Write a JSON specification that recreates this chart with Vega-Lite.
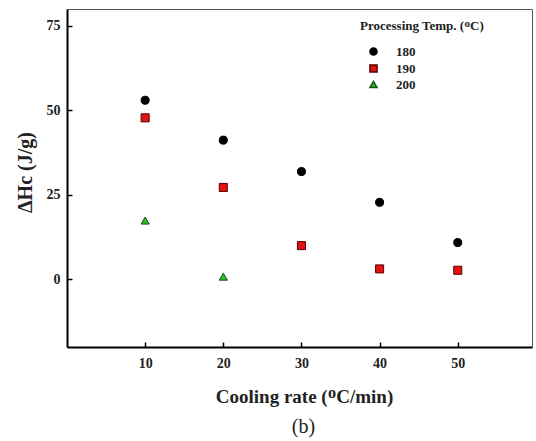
{
  "$schema": "https://vega.github.io/schema/vega-lite/v6.json",
  "width": 465,
  "height": 338,
  "autosize": {"type": "none"},
  "padding": {"left": 67, "top": 9, "right": 4, "bottom": 94},
  "background": "white",
  "title": {
    "text": "(b)",
    "orient": "bottom",
    "anchor": "middle",
    "font": "Liberation Serif",
    "fontSize": 20,
    "fontWeight": "normal",
    "color": "#222",
    "offset": 11,
    "dx": 4
  },
  "config": {
    "view": {"stroke": "#555", "strokeWidth": 1},
    "font": "Liberation Serif"
  },
  "data": {
    "values": [
      {"rate": 10, "temp": "180", "dhc": 53.0},
      {"rate": 20, "temp": "180", "dhc": 41.2},
      {"rate": 30, "temp": "180", "dhc": 31.9},
      {"rate": 40, "temp": "180", "dhc": 22.8},
      {"rate": 50, "temp": "180", "dhc": 10.9},
      {"rate": 10, "temp": "190", "dhc": 47.8},
      {"rate": 20, "temp": "190", "dhc": 27.2},
      {"rate": 30, "temp": "190", "dhc": 10.0},
      {"rate": 40, "temp": "190", "dhc": 3.1},
      {"rate": 50, "temp": "190", "dhc": 2.7},
      {"rate": 10, "temp": "200", "dhc": 17.4},
      {"rate": 20, "temp": "200", "dhc": 0.8}
    ]
  },
  "mark": {"type": "point", "filled": true, "opacity": 1, "size": 65, "strokeWidth": 1},
  "encoding": {
    "x": {
      "field": "rate",
      "type": "quantitative",
      "scale": {"domain": [0, 59.5], "nice": false, "zero": false},
      "axis": {
        "title": "Cooling rate (ᴼC/min)",
        "values": [10, 20, 30, 40, 50],
        "grid": false,
        "domainColor": "black",
        "domainWidth": 2,
        "tickColor": "black",
        "tickWidth": 1.5,
        "tickSize": -5,
        "labelPadding": 14,
        "labelFont": "Liberation Serif",
        "labelFontWeight": "bold",
        "labelFontSize": 14,
        "labelColor": "#222",
        "titleFont": "Liberation Serif",
        "titleFontWeight": "bold",
        "titleFontSize": 19,
        "titleColor": "#222",
        "titlePadding": 17,
        "titleX": 237
      }
    },
    "y": {
      "field": "dhc",
      "type": "quantitative",
      "scale": {"domain": [-20, 80], "nice": false, "zero": false},
      "axis": {
        "title": "ΔHc (J/g)",
        "values": [0, 25, 50, 75],
        "grid": false,
        "domainColor": "black",
        "domainWidth": 2,
        "tickColor": "black",
        "tickWidth": 1.5,
        "tickSize": -5,
        "labelPadding": 12,
        "labelFont": "Liberation Serif",
        "labelFontWeight": "bold",
        "labelFontSize": 14,
        "labelColor": "#222",
        "titleFont": "Liberation Serif",
        "titleFontWeight": "bold",
        "titleFontSize": 20,
        "titleColor": "#222",
        "titlePadding": 11,
        "titleY": 163
      }
    },
    "shape": {
      "field": "temp",
      "type": "nominal",
      "scale": {"domain": ["180", "190", "200"], "range": ["circle", "square", "triangle-up"]},
      "legend": {
        "title": "Processing Temp. (ᴼC)",
        "orient": "none",
        "legendX": 293,
        "legendY": 11,
        "titleFont": "Liberation Serif",
        "titleFontWeight": "bold",
        "titleFontSize": 13,
        "titleColor": "#222",
        "titlePadding": 12,
        "labelFont": "Liberation Serif",
        "labelFontWeight": "bold",
        "labelFontSize": 13,
        "labelColor": "#222",
        "labelOffset": 16,
        "symbolOffset": 7,
        "symbolSize": 50,
        "rowPadding": 2
      }
    },
    "fill": {
      "field": "temp",
      "type": "nominal",
      "scale": {"domain": ["180", "190", "200"], "range": ["#000000", "#e01212", "#2cc02c"]},
      "legend": null
    },
    "stroke": {
      "field": "temp",
      "type": "nominal",
      "scale": {"domain": ["180", "190", "200"], "range": ["#000000", "#5a0000", "#145014"]},
      "legend": null
    }
  }
}
